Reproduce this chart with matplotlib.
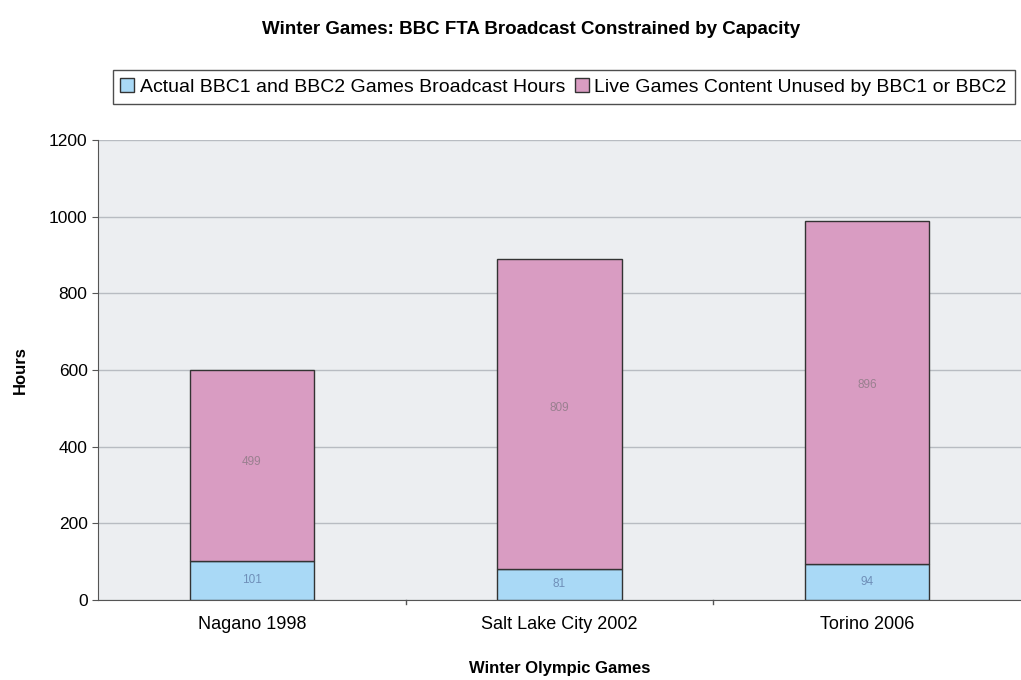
import matplotlib.pyplot as plt
import numpy as np

games = ['Nagano 1998', 'Salt Lake City 2002', 'Torino 2006']
broadcast_hours = [101, 81, 94]
unused_hours = [499, 809, 896]
y_ticks = [0, 200, 400, 600, 800, 1000, 1200]

plt.rcParams['font.family'] = ['Liberation Sans', 'DejaVu Sans']

fig = plt.figure(figsize=(10.21, 6.8), dpi=100)
ax = fig.add_axes([0.096, 0.118, 0.904, 0.676])
ax.set_facecolor('#eceef1')

x = np.arange(len(games))
b1 = ax.bar(x, broadcast_hours, width=0.405, color='#a9d9f6', edgecolor='#333333',
            linewidth=1.0, label='Actual BBC1 and BBC2 Games Broadcast Hours', zorder=3)
b2 = ax.bar(x, unused_hours, width=0.405, bottom=broadcast_hours, color='#d99cc2',
            edgecolor='#333333', linewidth=1.0,
            label='Live Games Content Unused by BBC1 or BBC2', zorder=3)

for i in range(len(games)):
    ax.text(x[i], broadcast_hours[i] / 2, str(broadcast_hours[i]), ha='center', va='center',
            fontsize=8.5, color='#6f8fb8', zorder=4)
    ax.text(x[i], broadcast_hours[i] + unused_hours[i] * 0.52, str(unused_hours[i]),
            ha='center', va='center', fontsize=8.5, color='#9a8090', zorder=4)

ax.set_xlim(-0.5, 2.5)
ax.set_ylim(0, 1200)
ax.set_yticks(y_ticks)
ax.set_xticks(x)
ax.set_xticklabels(games, fontsize=13)
ax.tick_params(axis='x', length=0, pad=12)
ax.tick_params(axis='y', labelsize=12.5, length=4, color='#555555')
for xb in [0.5, 1.5]:
    ax.plot([xb, xb], [0, -12], color='#555555', lw=1, clip_on=False)
ax.grid(axis='y', color='#b8bcc2', lw=1, zorder=0)

for s in ['top', 'right']:
    ax.spines[s].set_visible(False)
ax.spines['left'].set_color('#555555')
ax.spines['bottom'].set_color('#555555')

ax.set_ylabel('Hours', fontsize=12, fontweight='bold', labelpad=15)
ax.set_xlabel('Winter Olympic Games', fontsize=12, fontweight='bold', labelpad=20)

fig.text(0.52, 0.956, 'Winter Games: BBC FTA Broadcast Constrained by Capacity',
         ha='center', va='center', fontsize=13.5, fontweight='bold')

leg = fig.legend(handles=[b1, b2], loc='center', bbox_to_anchor=(0.552, 0.872), ncol=2,
                 fontsize=14, frameon=True, fancybox=False, edgecolor='#222222',
                 handlelength=0.7, handleheight=0.7, handletextpad=0.3, columnspacing=0.5,
                 borderpad=0.4)
leg.get_frame().set_linewidth(1.0)

fig.savefig('out.png', dpi=100)
